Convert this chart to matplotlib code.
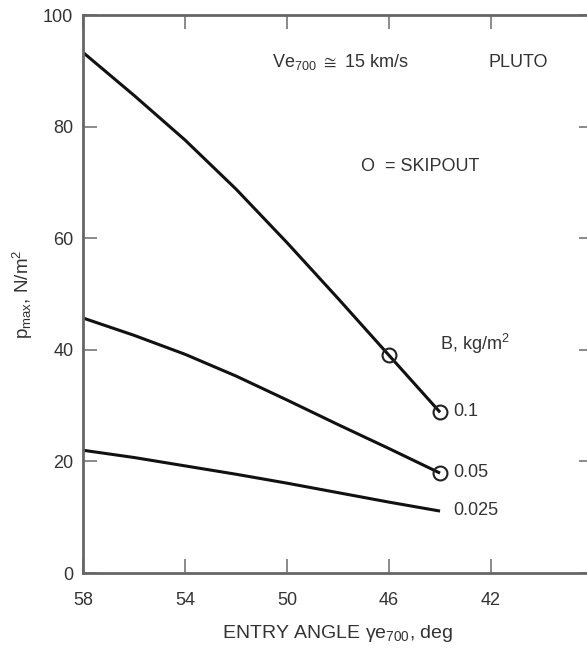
import numpy as np
from matplotlib import pyplot as plt

plt.rcParams['font.family'] = ['Liberation Sans', 'DejaVu Sans']
plt.rcParams['mathtext.fontset'] = 'custom'
plt.rcParams['mathtext.rm'] = 'Liberation Sans'
plt.rcParams['mathtext.it'] = 'Liberation Sans'

angle = [58, 56, 54, 52, 50, 48, 46, 44]
p_01 = [93.3, 85.6, 77.6, 68.8, 59.2, 49.2, 39.0, 28.8]
p_005 = [45.7, 42.6, 39.2, 35.3, 31.0, 26.6, 22.3, 17.9]
p_0025 = [22.0, 20.7, 19.2, 17.7, 16.1, 14.4, 12.7, 11.1]

skip_x = [46, 44, 44]
skip_y = [39.0, 28.8, 17.9]

b_labels = ["0.1", "0.05", "0.025"]
b_label_y = [29, 18, 11.2]

fig = plt.figure(figsize=(5.87, 6.53), dpi=100)
ax = fig.add_axes([0.1414, 0.1225, 0.869, 0.8545])

for p in (p_01, p_005, p_0025):
    ax.plot(angle, p, color='#111111', lw=2.2, solid_capstyle='butt')
ax.plot(skip_x, skip_y, 'o', ms=10, mfc='none', mec='#222222', mew=1.5)

for lab, y in zip(b_labels, b_label_y):
    ax.text(43.5, y, lab, fontsize=13, color='#333333', va='center', ha='left')

ax.text(44.0, 41, "B, kg/m$^2$", fontsize=13, color='#333333', va='center', ha='left')
ax.text(47.1, 72.8, "O  = SKIPOUT", fontsize=13, color='#333333', va='center', ha='left')
ax.text(50.6, 91.5, "Ve$_{700}$ $\\cong$ 15 km/s", fontsize=13, color='#333333', va='center', ha='left')
ax.text(42.1, 91.5, "PLUTO", fontsize=13, color='#333333', va='center', ha='left')

ax.set_xlim(58, 38)
ax.set_ylim(0, 100)
ax.set_xticks([58, 54, 50, 46, 42])
ax.set_yticks([0, 20, 40, 60, 80, 100])
ax.tick_params(direction='in', length=10, width=1.2, color='#777777',
               labelsize=13, labelcolor='#333333', top=True, right=True)
ax.tick_params(axis='x', pad=14)
ax.tick_params(axis='y', pad=7)
for s in ax.spines.values():
    s.set_color('#666666')
    s.set_linewidth(2)

ax.set_xlabel("ENTRY ANGLE $\\gamma$e$_{700}$, deg", fontsize=14, color='#333333', labelpad=10)
ax.set_ylabel("p$_{max}$, N/m$^2$", fontsize=13.5, color='#333333', labelpad=6)

fig.savefig("out.png", dpi=100)
